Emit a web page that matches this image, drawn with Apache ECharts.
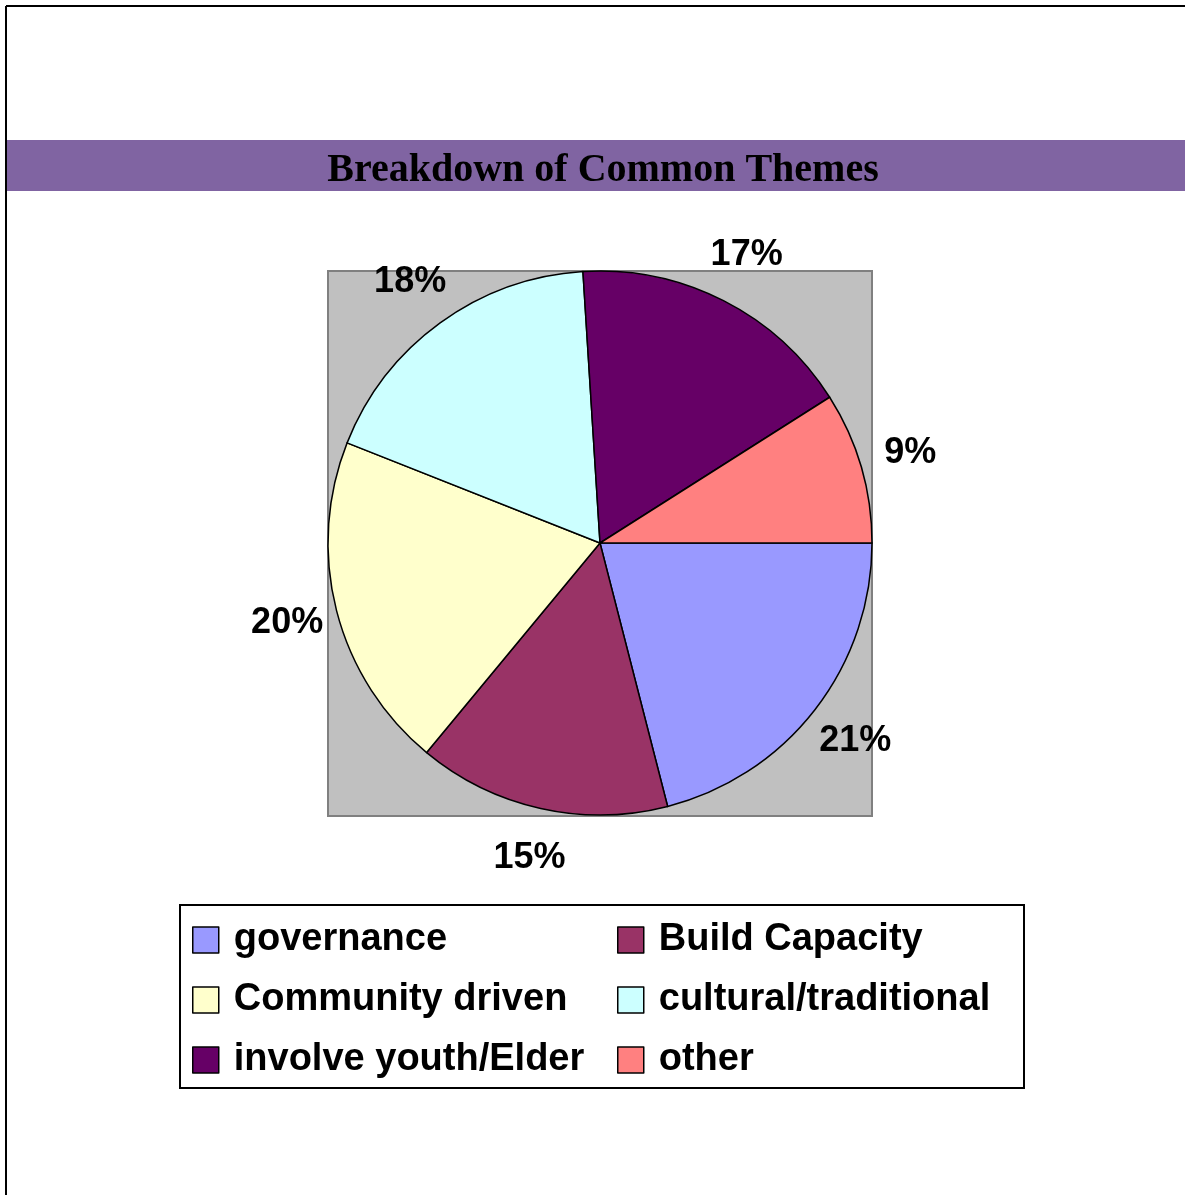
<!DOCTYPE html>
<html>
<head>
<meta charset="utf-8">
<script src="https://cdn.jsdelivr.net/npm/echarts@6/dist/echarts.min.js"></script>
<style>html,body{margin:0;padding:0;background:#fff;}#c{width:1185px;height:1195px;}</style>
</head>
<body>
<div id="c"></div>
<script>
const categories = ['governance', 'Build Capacity', 'Community driven', 'cultural/traditional', 'involve youth/Elder', 'other'];
const shares = [21, 15, 20, 18, 17, 9];
const colors = ['#9999ff', '#993366', '#ffffcc', '#ccffff', '#660066', '#ff8080'];
const legendLeft = ['governance', 'Community driven', 'involve youth/Elder'];
const legendRight = ['Build Capacity', 'cultural/traditional', 'other'];

const chart = echarts.init(document.getElementById('c'), null, {renderer: 'canvas'});
const pieData = categories.map((n, i) => ({name: n, value: shares[i], itemStyle: {color: colors[i]}}));
const ringData = categories.map((n, i) => ({name: n, value: shares[i]}));
const legendText = {fontFamily: 'Liberation Sans, Arial, sans-serif', fontWeight: 'bold', fontSize: 38, color: '#000', lineHeight: 38, padding: [0, 0, 0, 10]};
const legendBase = {
  orient: 'vertical', itemWidth: 26, itemHeight: 26, itemGap: 22, icon: 'rect',
  itemStyle: {borderColor: '#000', borderWidth: 1.5}, textStyle: legendText,
  selectedMode: false, padding: 0
};
chart.setOption({
  animation: false,
  backgroundColor: '#fff',
  title: {
    text: 'Breakdown of Common Themes', left: 598, top: 146, textAlign: 'center',
    textStyle: {fontFamily: 'Liberation Serif, Times New Roman, serif', fontWeight: 'bold', fontSize: 40, color: '#000', lineHeight: 40}
  },
  graphic: [
    {type: 'line', shape: {x1: 6, y1: 6, x2: 1185, y2: 6}, style: {stroke: '#000', lineWidth: 2}, z: -1},
    {type: 'line', shape: {x1: 6, y1: 6, x2: 6, y2: 1195}, style: {stroke: '#000', lineWidth: 2}, z: -1},
    {type: 'rect', shape: {x: 7, y: 140, width: 1178, height: 51}, style: {fill: '#8064a2'}, z: -2},
    {type: 'rect', shape: {x: 328, y: 271, width: 544, height: 545}, style: {fill: '#c0c0c0', stroke: '#808080', lineWidth: 2}, z: -2},
    {type: 'rect', shape: {x: 180, y: 905, width: 844, height: 183}, style: {fill: 'none', stroke: '#000', lineWidth: 2}, z: -1}
  ],
  legend: [
    Object.assign({}, legendBase, {left: 192, top: 921, data: legendLeft}),
    Object.assign({}, legendBase, {left: 617, top: 921, data: legendRight})
  ],
  series: [
    {
      type: 'pie', center: [600, 543], radius: 272, startAngle: 0, clockwise: true,
      data: pieData, silent: true, avoidLabelOverlap: false,
      itemStyle: {borderColor: '#000', borderWidth: 1.5},
      label: {show: false}, labelLine: {show: false}
    },
    {
      type: 'pie', center: [600, 543], radius: [296, 344], startAngle: 0, clockwise: true,
      data: ringData, silent: true, avoidLabelOverlap: false,
      itemStyle: {color: 'rgba(0,0,0,0)', borderWidth: 0},
      label: {show: true, position: 'inside', rotate: 0, formatter: '{c}%',
        fontFamily: 'Liberation Sans, Arial, sans-serif', fontWeight: 'bold', fontSize: 36, color: '#000'},
      labelLine: {show: false}
    }
  ]
});
</script>
</body>
</html>
